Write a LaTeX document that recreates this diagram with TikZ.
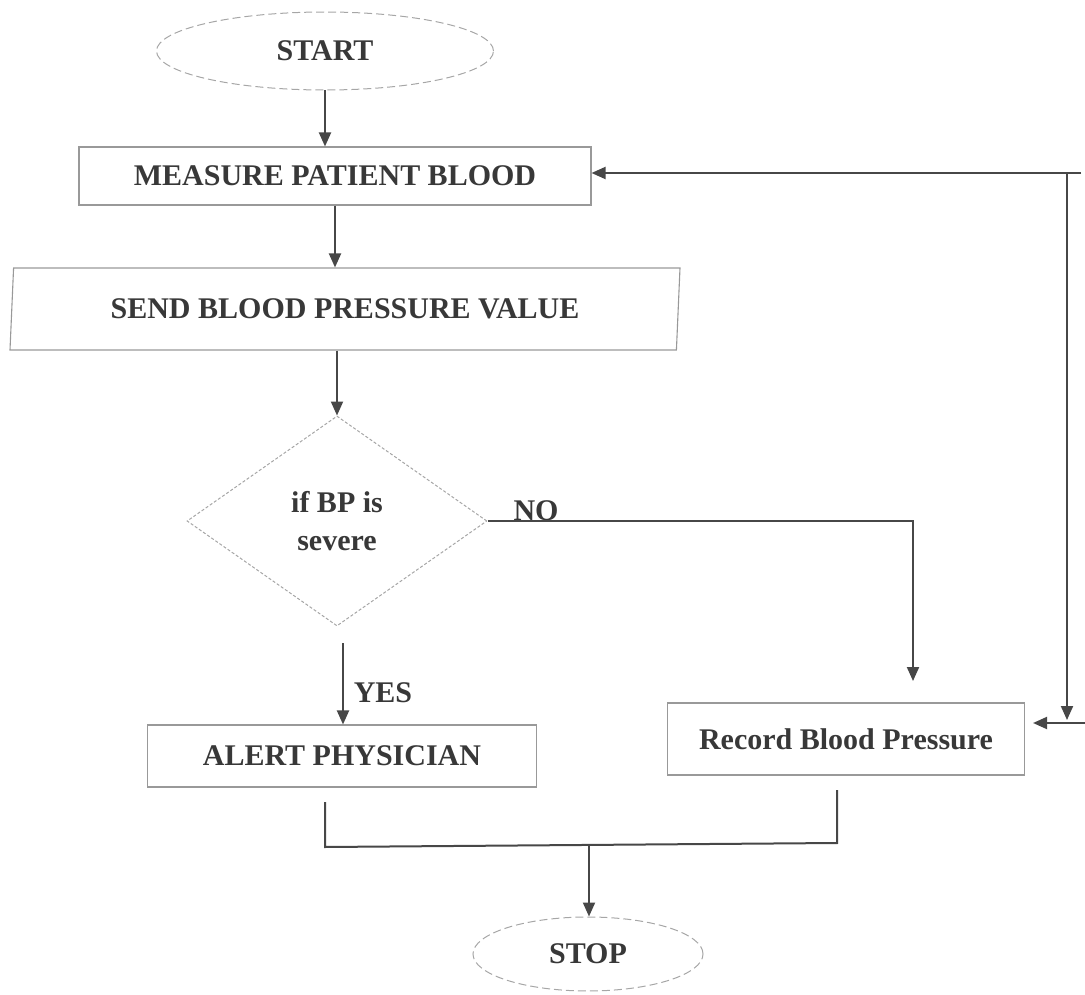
\documentclass[tikz,border=0pt]{standalone}
\usepackage{fontspec}
\setmainfont{Liberation Serif}
\usetikzlibrary{shapes.geometric,arrows.meta,calc}
\begin{document}
\begin{tikzpicture}[x=1pt,y=-1pt,
  every node/.style={font=\bfseries\fontsize{30}{38}\selectfont, text=black!78},
  boxline/.style={draw=black!40, line width=1.1pt},
  termnode/.style={ellipse, draw=black!35, dash pattern=on 8pt off 4pt, line width=1pt, inner sep=0pt},
  procbox/.style={rectangle, boxline, inner sep=0pt},
  iobox/.style={trapezium, trapezium left angle=80, trapezium right angle=100, trapezium stretches body, boxline, inner sep=0pt},
  decbox/.style={diamond, draw=black!35, dash pattern=on 3pt off 2pt, line width=1pt, inner sep=0pt, align=center},
  arr/.style={draw=black!72, line width=2pt, -{Triangle[length=14pt,width=12pt]}},
  conn/.style={draw=black!72, line width=2pt},
  lbl/.style={inner sep=0pt}
]
\useasboundingbox (0,0) rectangle (1085,995);

\node[termnode, minimum width=337pt, minimum height=78pt] (start) at (325,51) {START};
\node[procbox, minimum width=512pt, minimum height=58pt] (measure) at (335,176) {MEASURE PATIENT BLOOD};
\node[iobox, minimum width=670pt, minimum height=82pt] (send) at (345,309) {SEND BLOOD PRESSURE VALUE};
\node[decbox, minimum width=300pt, minimum height=210pt] (dec) at (337,521) {if BP is\\severe};
\node[procbox, minimum width=389pt, minimum height=62pt] (alert) at (342,756) {ALERT PHYSICIAN};
\node[procbox, minimum width=357pt, minimum height=72pt] (record) at (846,739) {Record Blood Pressure};
\node[termnode, minimum width=230pt, minimum height=74pt] (stop) at (588,954) {STOP};

\node[lbl] (no) at (536,511) {NO};
\node[lbl] (yes) at (383,693) {YES};

\coordinate (noend) at (913,681);
\coordinate (yesstart) at (343,643);
\coordinate (loopA) at (1081,173);
\coordinate (loopB) at (1067,173);
\coordinate (loopC) at (1067,720);
\coordinate (loopD) at (1085,723);
\coordinate (aBot) at (325,802);
\coordinate (jL) at (325,847);
\coordinate (jR) at (837,843);
\coordinate (rBot) at (837,790);
\coordinate (mid) at (589,845);

\draw[arr] (start.south) -- (start.south |- measure.north);
\draw[arr] (measure.south) -- (measure.south |- send.north);
\draw[arr] (send.south -| dec.north) -- (dec.north);
\draw[arr] (dec.east) -| (noend);
\draw[arr] (yesstart) -- (alert.north -| yesstart);
\draw[arr] (loopA) -- (measure.east |- loopA);
\draw[arr] (loopB) -- (loopC);
\draw[arr, shorten >=8pt] (loopD) -- (record.east |- loopD);
\draw[conn] (aBot) -- (jL) -- (jR) -- (rBot);
\draw[arr] (mid) -- (stop.north -| mid);
\end{tikzpicture}
\end{document}
